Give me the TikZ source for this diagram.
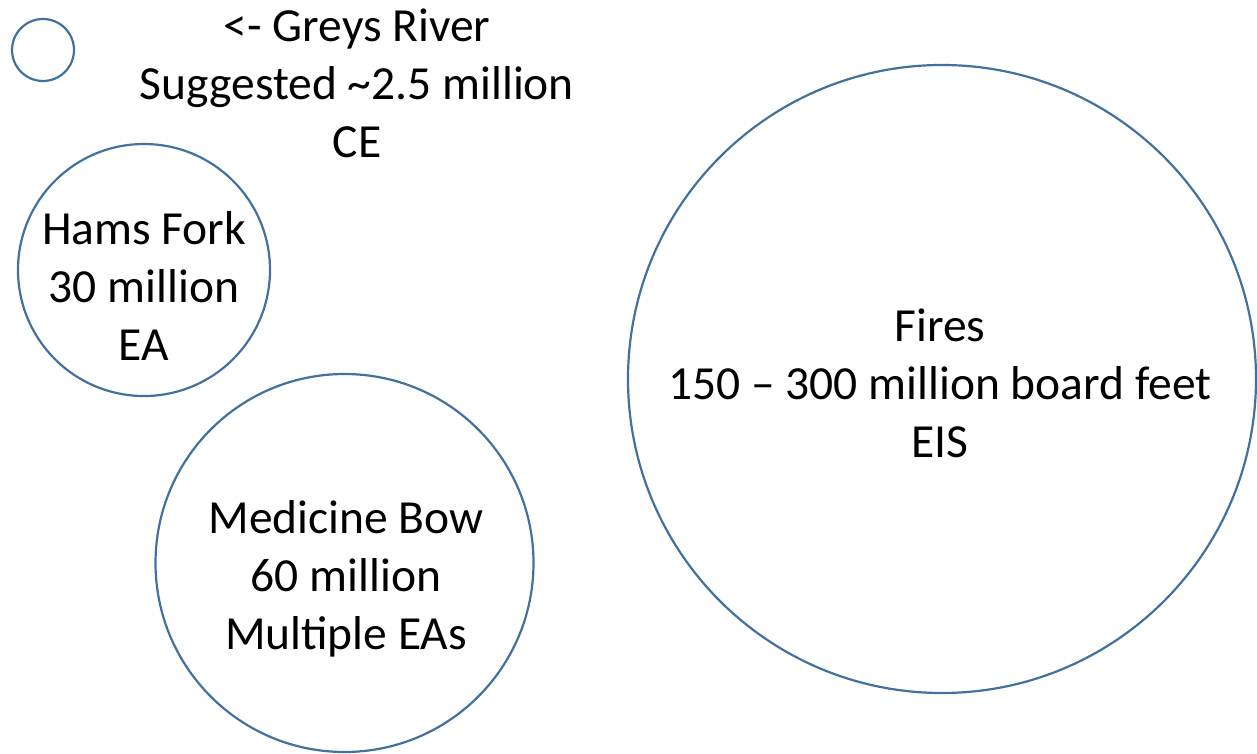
\documentclass[tikz,border=0pt]{standalone}
\usepackage{fontspec}
\setmainfont{Carlito}
\definecolor{bubblecol}{RGB}{65,113,156}
\begin{document}
\begin{tikzpicture}[x=1pt, y=-1pt,
  bubble/.style={circle, draw=bubblecol, line width=2.2pt, inner sep=0pt},
  caption/.style={align=center, inner sep=0pt, font=\fontsize{47.5}{58}\selectfont}]
\useasboundingbox (0,0) rectangle (1257,754);
\node[bubble, minimum size=62pt] (greys) at (43,50){};
\node[caption] (greystxt) at (357,83){<- Greys River\\Suggested \textasciitilde2.5 million\\CE};
\node[bubble, minimum size=252pt] (hams) at (144,270){};
\node[caption] (hamstxt) at (144,286.5){Hams Fork\\30 million\\EA};
\node[bubble, minimum size=378pt] (medbow) at (344.5,563){};
\node[caption] (medbowtxt) at (346,579){Medicine Bow\\60 million\\Multiple EAs};
\node[bubble, minimum size=628pt] (fires) at (942,379){};
\node[caption] (firestxt) at (940,383){Fires\\150 – 300 million board feet\\EIS};
\end{tikzpicture}
\end{document}
